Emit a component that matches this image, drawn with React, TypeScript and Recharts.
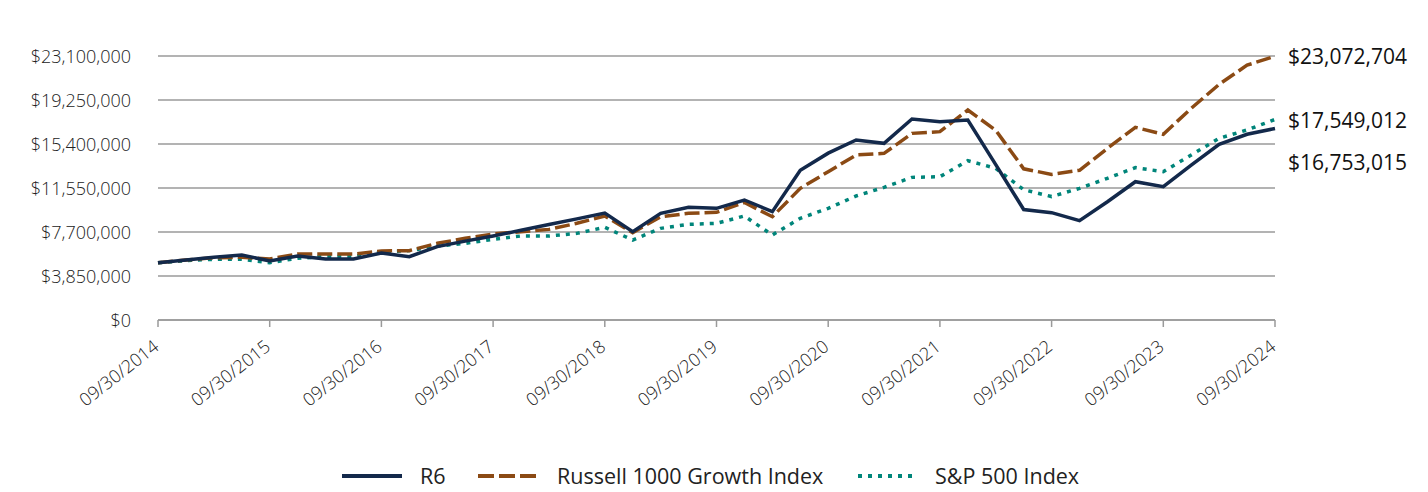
import React from 'react'
import { LineChart, Line, XAxis, YAxis, CartesianGrid, LabelList } from 'recharts'

// quarter-end dates, 09/30/2014 .. 09/30/2024
const quarters = [
  '09/30/2014', '12/31/2014', '03/31/2015', '06/30/2015',
  '09/30/2015', '12/31/2015', '03/31/2016', '06/30/2016',
  '09/30/2016', '12/31/2016', '03/31/2017', '06/30/2017',
  '09/30/2017', '12/31/2017', '03/31/2018', '06/30/2018',
  '09/30/2018', '12/31/2018', '03/31/2019', '06/30/2019',
  '09/30/2019', '12/31/2019', '03/31/2020', '06/30/2020',
  '09/30/2020', '12/31/2020', '03/31/2021', '06/30/2021',
  '09/30/2021', '12/31/2021', '03/31/2022', '06/30/2022',
  '09/30/2022', '12/31/2022', '03/31/2023', '06/30/2023',
  '09/30/2023', '12/31/2023', '03/31/2024', '06/30/2024',
  '09/30/2024',
]

const yearTicks = [
  '09/30/2014', '09/30/2015', '09/30/2016', '09/30/2017', '09/30/2018', '09/30/2019',
  '09/30/2020', '09/30/2021', '09/30/2022', '09/30/2023', '09/30/2024',
]

const valueTicks = [0, 3850000, 7700000, 11550000, 15400000, 19250000, 23100000]

const r6 = [
  5000000, 5250000, 5490000, 5690000, 5160000, 5600000, 5340000, 5340000,
  5860000, 5540000, 6420000, 6900000, 7350000, 7850000, 8350000, 8850000,
  9350000, 7730000, 9330000, 9860000, 9770000, 10500000, 9480000, 13100000,
  14600000, 15750000, 15460000, 17590000, 17350000, 17500000, 13600000, 9670000,
  9390000, 8690000, 10350000, 12100000, 11670000, 13560000, 15370000, 16250000,
  16753015,
]

const russell1000Growth = [
  5000000, 5250000, 5450000, 5490000, 5340000, 5770000, 5770000, 5770000,
  6040000, 6070000, 6710000, 7150000, 7520000, 7730000, 7930000, 8460000,
  9100000, 7640000, 9040000, 9330000, 9420000, 10280000, 9040000, 11520000,
  12980000, 14440000, 14580000, 16330000, 16480000, 18375000, 16600000, 13230000,
  12740000, 13100000, 15020000, 16860000, 16250000, 18520000, 20620000, 22300000,
  23072704,
]

const sp500 = [
  5000000, 5200000, 5310000, 5310000, 5020000, 5400000, 5550000, 5550000,
  5950000, 6070000, 6470000, 6710000, 7060000, 7350000, 7350000, 7580000,
  8110000, 7000000, 8020000, 8370000, 8460000, 9100000, 7440000, 8900000,
  9770000, 10850000, 11610000, 12480000, 12540000, 13940000, 13270000, 11400000,
  10800000, 11520000, 12400000, 13330000, 12980000, 14440000, 15900000, 16630000,
  17549012,
]

const NAVY = '#13294b'
const BROWN = '#8b4a14'
const TEAL = '#00857a'
const GRID = '#9a9a9a'
const FONT = '"Open Sans", sans-serif'

const money = (v: number) => '$' + v.toLocaleString('en-US')

const data = quarters.map((q, i) => ({
  date: q,
  r6: r6[i],
  r1000g: russell1000Growth[i],
  sp500: sp500[i],
}))

function DateTick({ x, y, payload }: any) {
  const ax = x + 2
  const ay = y + 20
  return (
    <text x={ax} y={ay} transform={`rotate(-38 ${ax} ${ay})`} textAnchor="end"
      fontSize={18} fontWeight={300} fill="#222" fontFamily={FONT}>
      {payload.value}
    </text>
  )
}

function MoneyTick({ y, payload }: any) {
  return (
    <text x={131} y={y} textAnchor="end" dominantBaseline="central"
      fontSize={18} fontWeight={300} fill="#222" fontFamily={FONT}>
      {money(payload.value)}
    </text>
  )
}

const endLabel = (dy: number) => (props: any) => {
  const { x, y, index, value } = props
  if (index !== quarters.length - 1) return null
  return (
    <text x={x + 13} y={y + dy} dominantBaseline="central" fontSize={21}
      fill="#111" fontFamily={FONT}>
      {money(value)}
    </text>
  )
}

const legendItems = [
  { name: 'R6', color: NAVY, dash: undefined, lineX: 342, textX: 420 },
  { name: 'Russell 1000 Growth Index', color: BROWN, dash: '16 5', lineX: 478, textX: 557 },
  { name: 'S&P 500 Index', color: TEAL, dash: '4 6', lineX: 858, textX: 935 },
]

export default function App() {
  return (
    <div style={{ position: 'absolute', left: 0, top: 0, width: 1428, height: 492, background: '#fff' }}>
      <LineChart width={1428} height={492} data={data}
        margin={{ top: 56, right: 153, bottom: 112, left: 0 }}>
        <CartesianGrid vertical={false} stroke={GRID} strokeWidth={1.5} />
        <XAxis dataKey="date" ticks={yearTicks} interval={0} height={60}
          stroke={GRID} strokeWidth={1.5} tickSize={7} tick={<DateTick />} />
        <YAxis width={158} domain={[0, 23100000]} ticks={valueTicks}
          axisLine={false} tickLine={false} tick={<MoneyTick />} />
        <Line dataKey="sp500" stroke={TEAL} strokeWidth={3.5} strokeDasharray="4 6"
          dot={false} isAnimationActive={false}>
          <LabelList dataKey="sp500" content={endLabel(1)} />
        </Line>
        <Line dataKey="r1000g" stroke={BROWN} strokeWidth={3.5} strokeDasharray="15 5"
          dot={false} isAnimationActive={false}>
          <LabelList dataKey="r1000g" content={endLabel(0)} />
        </Line>
        <Line dataKey="r6" stroke={NAVY} strokeWidth={3.5}
          dot={false} isAnimationActive={false}>
          <LabelList dataKey="r6" content={endLabel(33)} />
        </Line>
      </LineChart>
      {legendItems.map(item => (
        <React.Fragment key={item.name}>
          <svg style={{ position: 'absolute', left: item.lineX, top: 471 }} width={60} height={10}>
            <line x1={0} y1={5} x2={60} y2={5} stroke={item.color} strokeWidth={4}
              strokeDasharray={item.dash} />
          </svg>
          <div style={{ position: 'absolute', left: item.textX, top: 462, fontFamily: FONT,
            fontSize: 21.5, lineHeight: '28px', color: '#222', whiteSpace: 'nowrap' }}>
            {item.name}
          </div>
        </React.Fragment>
      ))}
    </div>
  )
}
